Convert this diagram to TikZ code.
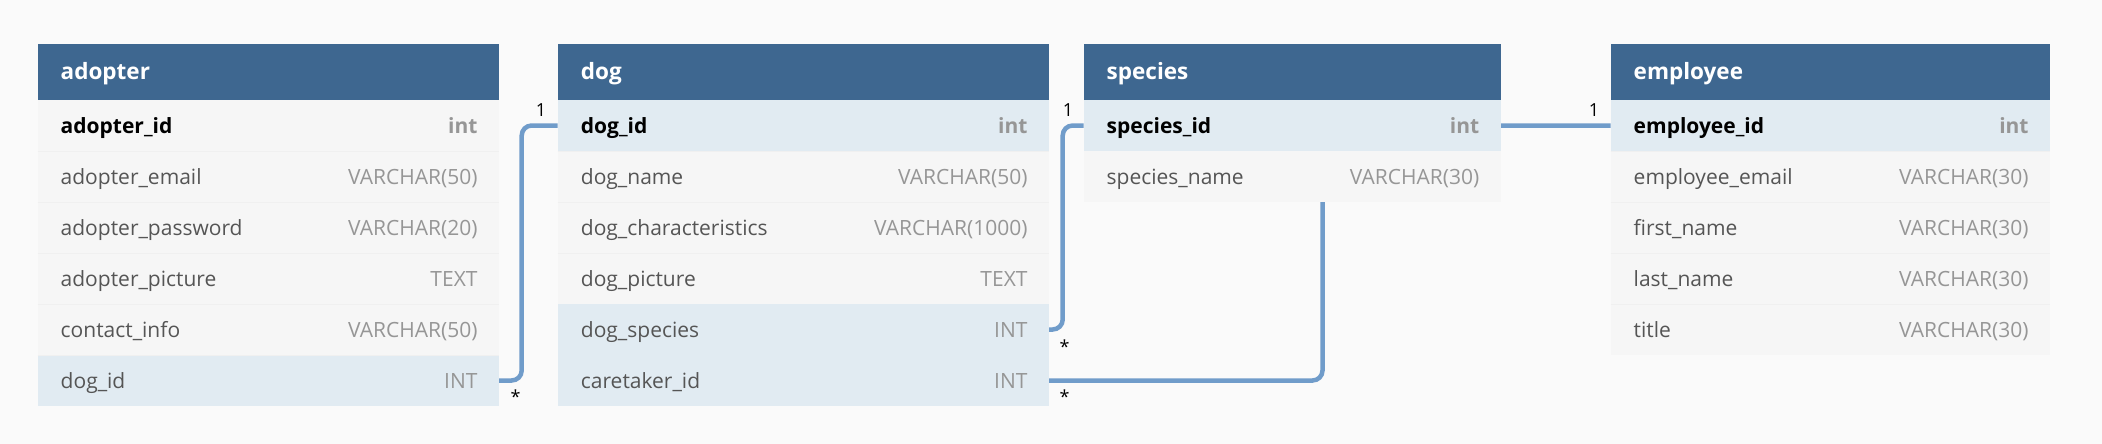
\documentclass[tikz,border=0pt]{standalone}
\usepackage{fontspec}
\setmainfont{Open Sans}
\usetikzlibrary{backgrounds}
\definecolor{bgc}{RGB}{250,250,250}
\definecolor{hdrc}{RGB}{62,103,144}
\definecolor{rowgray}{RGB}{246,246,246}
\definecolor{rowblue}{RGB}{225,235,242}
\definecolor{sepc}{RGB}{240,240,240}
\definecolor{namec}{RGB}{85,85,85}
\definecolor{typec}{RGB}{150,150,150}
\definecolor{connc}{RGB}{112,156,202}
\tikzset{
  hdrbox/.style={fill=hdrc, draw=none, inner sep=0pt, outer sep=0pt, minimum height=56},
  hdrtext/.style={text=white, inner sep=0pt, font=\fontsize{22.5}{26}\selectfont\bfseries},
  rowbox/.style={draw=none, inner sep=0pt, outer sep=0pt, minimum height=51},
  pkbg/.style={fill=rowblue}, fkbg/.style={fill=rowblue}, plainbg/.style={fill=rowgray},
  gpkbg/.style={fill=rowgray},
  pkname/.style={text=black, inner sep=0pt, font=\fontsize{21}{25}\selectfont\bfseries},
  gpkname/.style={pkname},
  fkname/.style={text=namec, inner sep=0pt, font=\fontsize{21}{25}\selectfont},
  plainname/.style={text=namec, inner sep=0pt, font=\fontsize{21}{25}\selectfont},
  pktype/.style={text=typec, inner sep=0pt, font=\fontsize{21}{25}\selectfont\bfseries},
  gpktype/.style={pktype},
  fktype/.style={text=typec, inner sep=0pt, font=\fontsize{21}{25}\selectfont},
  plaintype/.style={text=typec, inner sep=0pt, font=\fontsize{21}{25}\selectfont},
  conn/.style={draw=connc, line width=4.5pt, rounded corners=10pt},
  card/.style={text=black, inner sep=0pt, font=\fontsize{18}{21}\selectfont, anchor=base},
}
\newcommand\ertable[4]{%
  \def\tabid{#1}\def\tx{#2}\def\tw{#3}%
  \node[hdrbox, minimum width=#3, anchor=north west] (#1) at (#2,44) {};
  \node[hdrtext, anchor=base west] (#1-title) at ([xshift=23,yshift=-8]#1.west) {#4};
}
\newcommand\errow[4]{%
  \node[rowbox, #4bg, minimum width=\tw, anchor=north west] (\tabid-r#1) at (\tx,{100+51*(#1-1)}) {};
  \node[#4name, anchor=base west] (\tabid-n#1) at ([xshift=23,yshift=-7.5]\tabid-r#1.west) {#2};
  \node[#4type, anchor=base east] (\tabid-t#1) at ([xshift=-21,yshift=-7.5]\tabid-r#1.east) {#3};
}
\begin{document}
\begin{tikzpicture}[x=1pt, y=-1pt]
\useasboundingbox (0,0) rectangle (2102,444);
% adopter
\ertable{adopter}{37.5}{461.2}{adopter}
\errow{1}{adopter\_id}{int}{gpk}
\errow{2}{adopter\_email}{VARCHAR(50)}{plain}
\errow{3}{adopter\_password}{VARCHAR(20)}{plain}
\errow{4}{adopter\_picture}{TEXT}{plain}
\errow{5}{contact\_info}{VARCHAR(50)}{plain}
\errow{6}{dog\_id}{INT}{fk}
% dog
\ertable{dog}{557.7}{491}{dog}
\errow{1}{dog\_id}{int}{pk}
\errow{2}{dog\_name}{VARCHAR(50)}{plain}
\errow{3}{dog\_characteristics}{VARCHAR(1000)}{plain}
\errow{4}{dog\_picture}{TEXT}{plain}
\errow{5}{dog\_species}{INT}{fk}
\errow{6}{caretaker\_id}{INT}{fk}
% species
\ertable{species}{1083.5}{417}{species}
\errow{1}{species\_id}{int}{pk}
\errow{2}{species\_name}{VARCHAR(30)}{plain}
% employee
\ertable{employee}{1610.5}{439.3}{employee}
\errow{1}{employee\_id}{int}{pk}
\errow{2}{employee\_email}{VARCHAR(30)}{plain}
\errow{3}{first\_name}{VARCHAR(30)}{plain}
\errow{4}{last\_name}{VARCHAR(30)}{plain}
\errow{5}{title}{VARCHAR(30)}{plain}
% faint row separators
\foreach \t/\n in {adopter/5,dog/3,employee/4}{
  \foreach \k in {1,...,\n}{
    \draw[sepc, line width=1pt] (\t-r\k.south west) -- (\t-r\k.south east);
  }
}
\begin{scope}[on background layer]
  \fill[bgc] (0,0) rectangle (2102,444);
  \coordinate (ct) at (1322.5,380.5);
  \draw[conn] (adopter-r6.east) -- ++(23,0) |- (dog-r1.west);
  \draw[conn] (dog-r5.east) -- ++(14,0) |- (species-r1.west);
  \draw[conn] (dog-r6.east) -- (ct) |- (employee-r1.west);
\end{scope}
% cardinality labels
\node[card] (c1) at (541,116) {1};
\node[card] (c2) at (515.5,403) {*};
\node[card] (c3) at (1068,116) {1};
\node[card] (c4) at (1064.5,353) {*};
\node[card] (c5) at (1064.5,403) {*};
\node[card] (c6) at (1594,116) {1};
\end{tikzpicture}
\end{document}
